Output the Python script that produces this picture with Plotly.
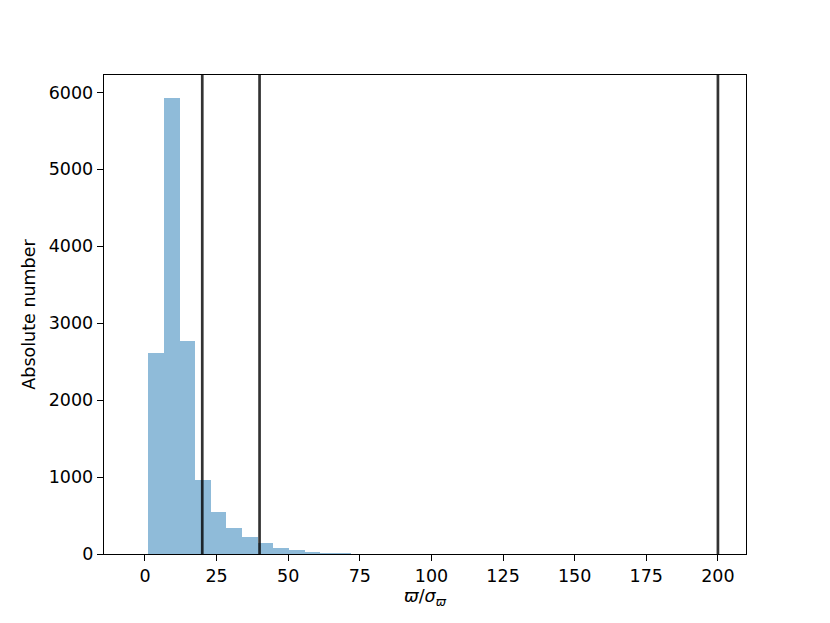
import plotly.graph_objects as go

# Histogram bins (left edges) and counts
bin_start = 1.2
bin_width = 5.45
counts = [2607, 5931, 2775, 965, 545, 338, 217, 143, 74, 48, 22, 17, 12]
vlines = [20, 40, 200]
x_ticks = [0, 25, 50, 75, 100, 125, 150, 175, 200]
y_ticks = [0, 1000, 2000, 3000, 4000, 5000, 6000]

centers = [bin_start + bin_width * (i + 0.5) for i in range(len(counts))]

FONT = "DejaVu Sans"
FS = 17.5
fig = go.Figure()
fig.add_trace(go.Bar(
    x=centers, y=counts, width=[bin_width] * len(counts),
    marker=dict(color="rgba(31,119,180,0.5)", line=dict(width=0)),
    showlegend=False, hoverinfo="skip",
))
for v in vlines:
    fig.add_shape(type="line", xref="x", yref="paper", x0=v, x1=v, y0=0, y1=1,
                  line=dict(color="rgba(0,0,0,0.8)", width=2.7), layer="above")

axis_common = dict(
    showline=True, mirror=True, linecolor="black", linewidth=1.44,
    ticks="outside", ticklen=6, tickwidth=1.44, tickcolor="black",
    showgrid=False, zeroline=False,
    tickfont=dict(family=FONT, size=FS, color="black"),
)
fig.update_layout(
    width=830, height=623, autosize=False,
    margin=dict(l=104, r=84, t=75, b=69),
    paper_bgcolor="white", plot_bgcolor="white",
    bargap=0,
    xaxis=dict(range=[-14.3, 209.8], tickvals=x_ticks,
               title=dict(text="<i>ϖ</i>/<i>σ</i><sub><i>ϖ</i></sub>",
                          font=dict(family=FONT, size=FS, color="black"), standoff=4),
               **axis_common),
    yaxis=dict(range=[0, 6226], tickvals=y_ticks,
               title=dict(text="Absolute number",
                          font=dict(family=FONT, size=FS, color="black"), standoff=8),
               **axis_common),
)
fig.write_html("out.html", config={"displayModeBar": False},
               post_script="document.body.style.margin='0';document.body.style.overflow='hidden';")
